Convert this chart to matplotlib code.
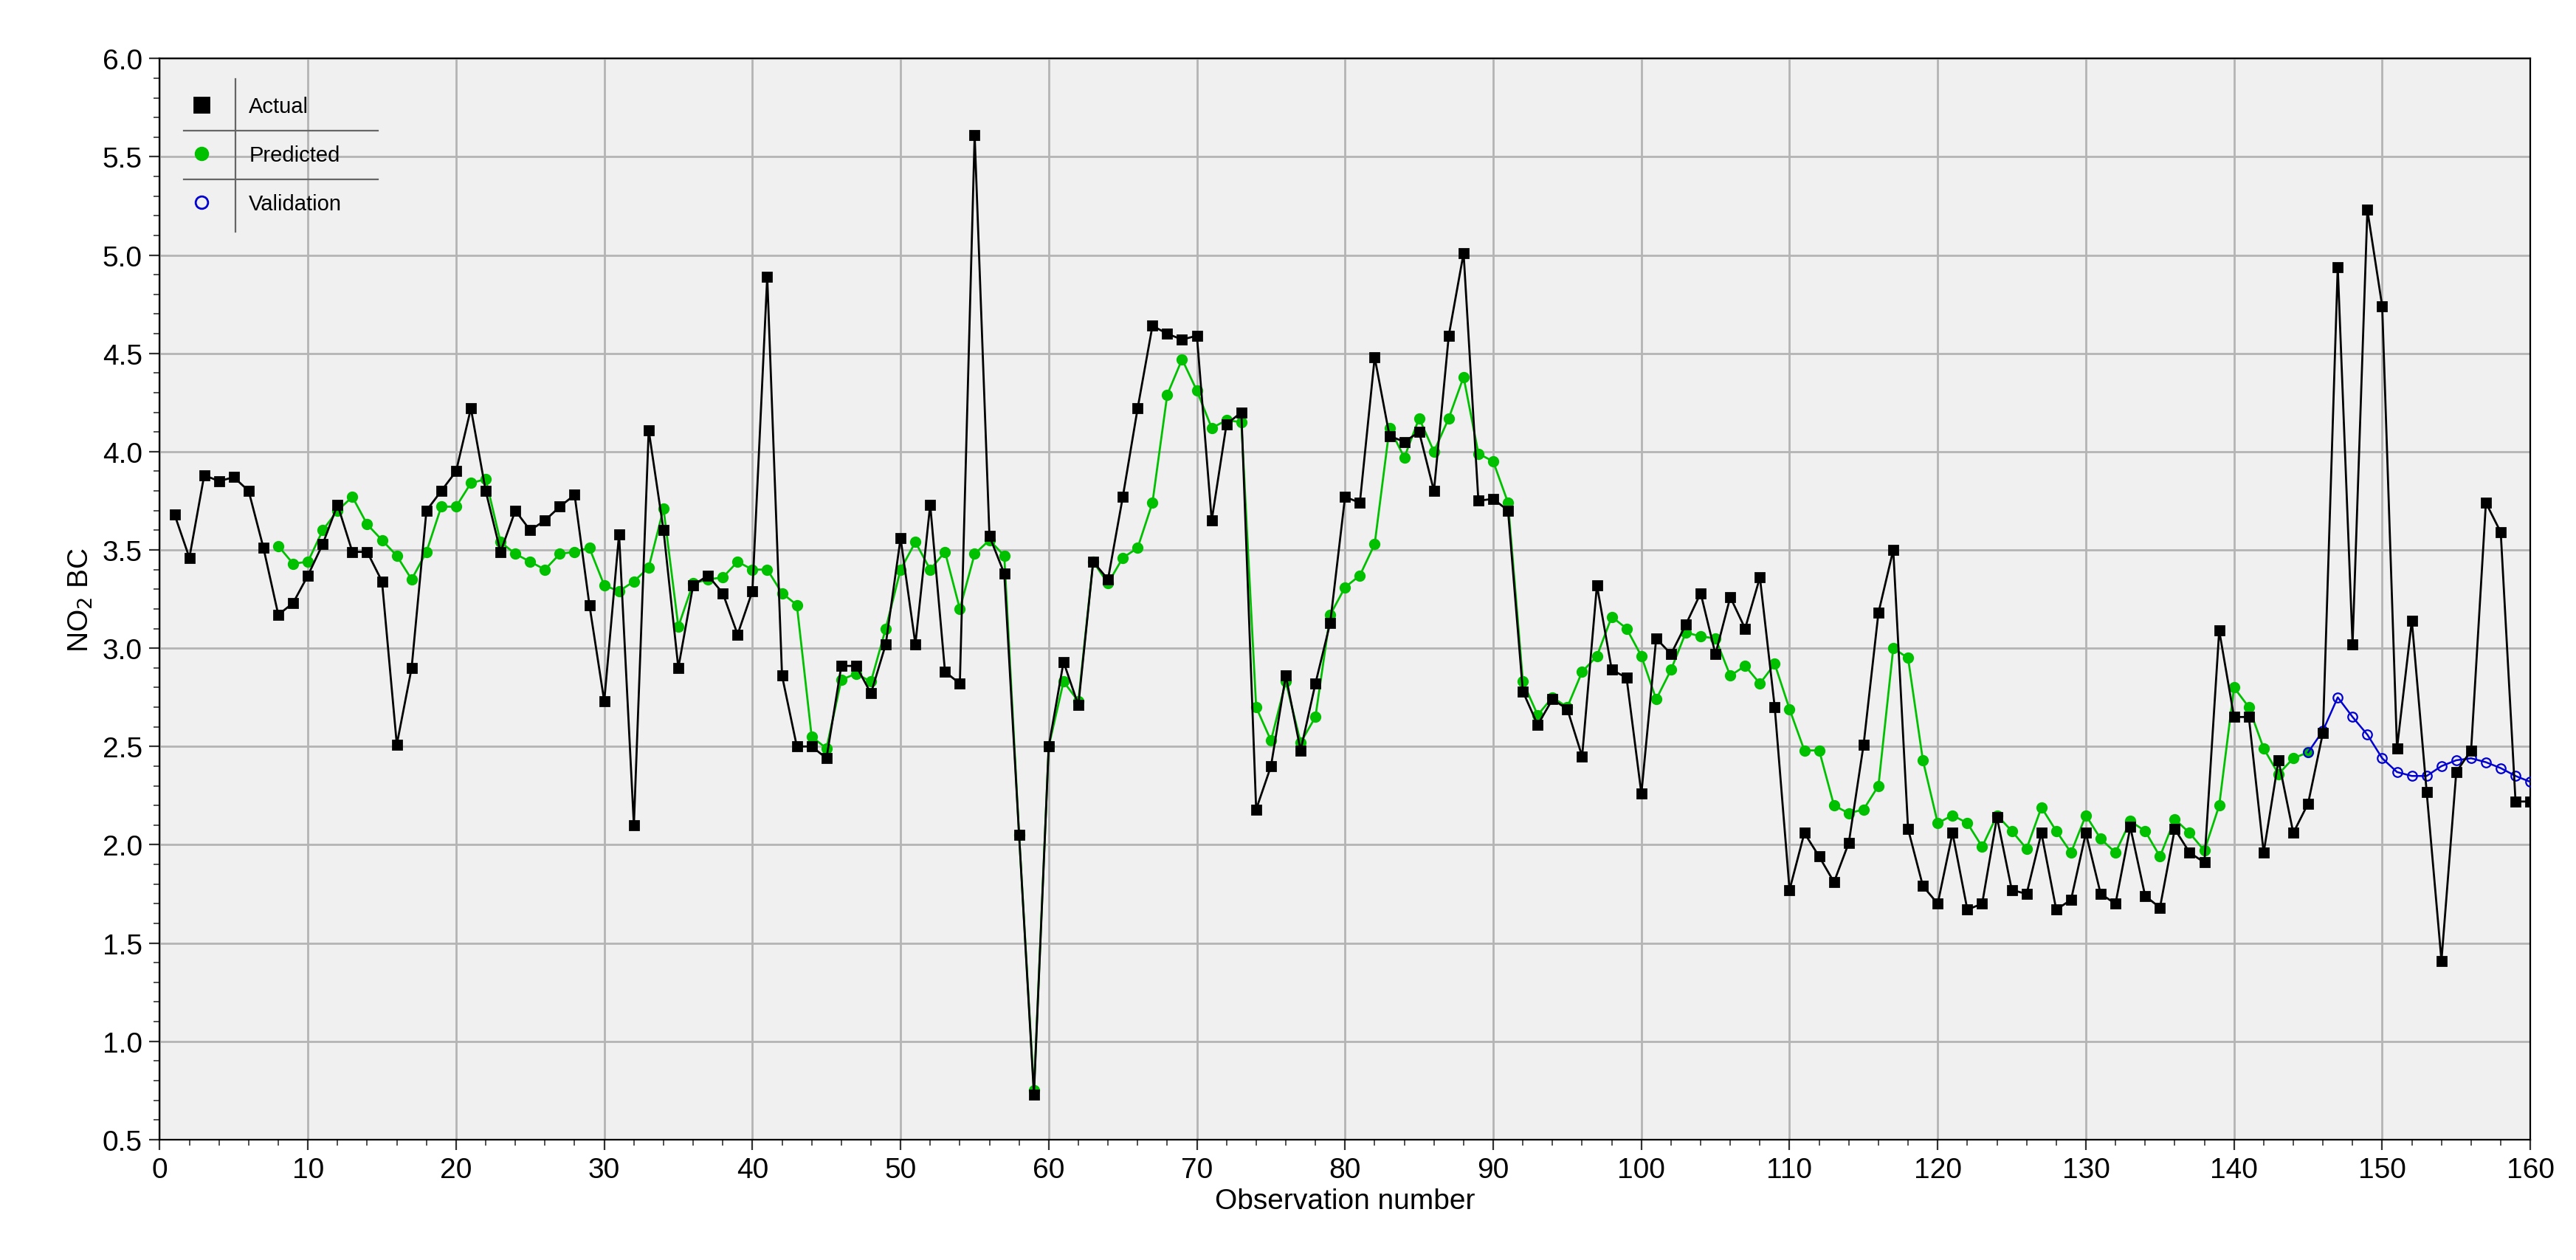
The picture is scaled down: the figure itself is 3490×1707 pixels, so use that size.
import matplotlib
matplotlib.use("Agg")
import matplotlib.pyplot as plt
from matplotlib.ticker import MultipleLocator
from matplotlib.lines import Line2D

plt.rcParams['font.family'] = ['Liberation Sans', 'DejaVu Sans']

actual = [3.68,3.46,3.88,3.85,3.87,3.80,3.51,3.17,3.23,3.37,3.53,3.73,3.49,3.49,3.34,2.51,2.90,3.70,3.80,3.90,
          4.22,3.80,3.49,3.70,3.60,3.65,3.72,3.78,3.22,2.73,3.58,2.10,4.11,3.60,2.90,3.32,3.37,3.28,3.07,3.29,
          4.89,2.86,2.50,2.50,2.44,2.91,2.91,2.77,3.02,3.56,3.02,3.73,2.88,2.82,5.61,3.57,3.38,2.05,0.73,2.50,
          2.93,2.71,3.44,3.35,3.77,4.22,4.64,4.60,4.57,4.59,3.65,4.14,4.20,2.18,2.40,2.86,2.48,2.82,3.13,3.77,
          3.74,4.48,4.08,4.05,4.10,3.80,4.59,5.01,3.75,3.76,3.70,2.78,2.61,2.74,2.69,2.45,3.32,2.89,2.85,2.26,
          3.05,2.97,3.12,3.28,2.97,3.26,3.10,3.36,2.70,1.77,2.06,1.94,1.81,2.01,2.51,3.18,3.50,2.08,1.79,1.70,
          2.06,1.67,1.70,2.14,1.77,1.75,2.06,1.67,1.72,2.06,1.75,1.70,2.09,1.74,1.68,2.08,1.96,1.91,3.09,2.65,
          2.65,1.96,2.43,2.06,2.21,2.57,4.94,3.02,5.23,4.74,2.49,3.14,2.27,1.41,2.37,2.48,3.74,3.59,2.22,2.22]
obs_actual = list(range(1, 161))

predicted = [3.52,3.43,3.44,3.60,3.70,3.77,3.63,3.55,3.47,3.35,3.49,3.72,3.72,3.84,3.86,3.54,3.48,3.44,3.40,3.48,
             3.49,3.51,3.32,3.29,3.34,3.41,3.71,3.11,3.33,3.35,3.36,3.44,3.40,3.40,3.28,3.22,2.55,2.49,2.84,2.87,
             2.83,3.10,3.40,3.54,3.40,3.49,3.20,3.48,3.55,3.47,2.05,0.75,2.50,2.83,2.73,3.44,3.33,3.46,3.51,3.74,
             4.29,4.47,4.31,4.12,4.16,4.15,2.70,2.53,2.83,2.52,2.65,3.17,3.31,3.37,3.53,4.12,3.97,4.17,4.00,4.17,
             4.38,3.99,3.95,3.74,2.83,2.66,2.75,2.70,2.88,2.96,3.16,3.10,2.96,2.74,2.89,3.08,3.06,3.05,2.86,2.91,
             2.82,2.92,2.69,2.48,2.48,2.20,2.16,2.18,2.30,3.00,2.95,2.43,2.11,2.15,2.11,1.99,2.15,2.07,1.98,2.19,
             2.07,1.96,2.15,2.03,1.96,2.12,2.07,1.94,2.13,2.06,1.97,2.20,2.80,2.70,2.49,2.36,2.44,2.47]
obs_pred = list(range(8, 8 + len(predicted)))

validation = [2.47,2.58,2.75,2.65,2.56,2.44,2.37,2.35,2.35,2.40,2.43,2.44,2.42,2.39,2.35,2.32]
obs_val = list(range(145, 161))

fig = plt.figure(figsize=(17.455, 8.54), dpi=200)
ax = fig.add_axes([0.062, 0.0955, 0.920, 0.8575])
ax.set_facecolor("#f0f0f0")

ax.plot(obs_pred, predicted, color="#00c000", lw=1.0, marker="o", ms=4.5, zorder=3)
ax.plot(obs_val, validation, color="#0000d0", lw=0.9, marker="o", ms=4.5, mfc="none", mec="#0000d0", mew=0.8, zorder=3)
ax.plot(obs_actual, actual, color="black", lw=1.0, marker="s", ms=4.5, zorder=4)

ax.set_xlim(0, 160)
ax.set_ylim(0.5, 6.0)
ax.xaxis.set_major_locator(MultipleLocator(10))
ax.xaxis.set_minor_locator(MultipleLocator(2))
ax.yaxis.set_major_locator(MultipleLocator(0.5))
ax.yaxis.set_minor_locator(MultipleLocator(0.1))
ax.yaxis.set_major_formatter(matplotlib.ticker.FormatStrFormatter("%.1f"))
ax.grid(True, which="major", color="#b4b4b4", lw=1.0)
ax.set_axisbelow(True)
ax.tick_params(which="both", direction="out", labelsize=14, color="#333333")
ax.tick_params(which="major", length=5)
ax.tick_params(which="minor", length=3)
ax.set_xlabel("Observation number", fontsize=14, labelpad=2)
ax.set_ylabel("NO$_2$ BC", fontsize=14)

handles = [Line2D([], [], ls="none", marker="s", color="black", ms=7),
           Line2D([], [], ls="none", marker="o", color="#00c000", ms=6),
           Line2D([], [], ls="none", marker="o", mfc="none", mec="#0000d0", ms=6)]
leg = ax.legend(handles, ["Actual", "Predicted", "Validation"], loc="upper left", frameon=False,
                fontsize=10.5, bbox_to_anchor=(0.004, 0.983), handlelength=1.2, handletextpad=1.6,
                labelspacing=1.3)
ax.plot([0.032, 0.032], [0.84, 0.981], transform=ax.transAxes, color="#666666", lw=0.8)
for yy in [0.933, 0.888]:
    ax.plot([0.010, 0.092], [yy, yy], transform=ax.transAxes, color="#666666", lw=0.8)

fig.savefig("out.png", dpi=200)
